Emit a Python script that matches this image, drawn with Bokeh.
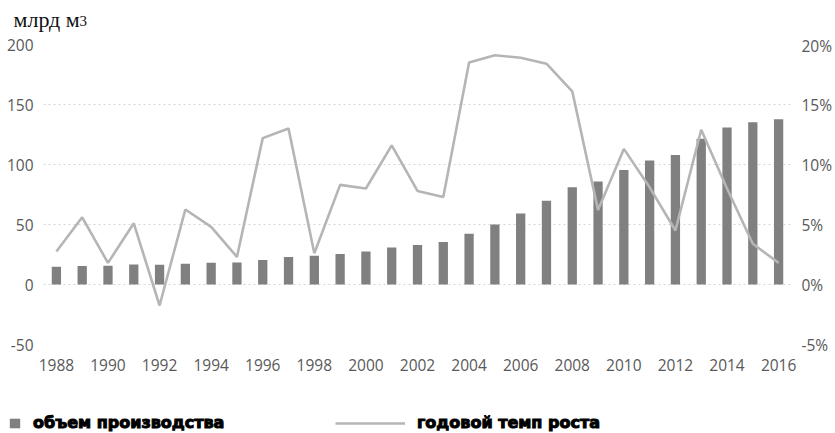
from bokeh.plotting import figure
from bokeh.layouts import column
from bokeh.models import (Range1d, LinearAxis, Legend, LegendItem, Label,
                          FixedTicker, PrintfTickFormatter)
from bokeh.embed import file_html
from bokeh.resources import INLINE

# ---- data ----
years = list(range(1988, 2017))
volume = [14.7, 15.5, 15.6, 16.6, 16.4, 17.2, 18.2, 18.4, 20.5, 23.0,
          23.9, 25.5, 27.5, 30.8, 33.0, 35.5, 42.2, 50.0, 59.2, 69.7,
          81.0, 85.8, 95.5, 103.3, 108.0, 121.4, 130.8, 135.3, 137.8]
growth = [2.75, 5.6, 1.8, 5.1, -1.75, 6.25, 4.8, 2.3, 12.2, 13.0,
          2.6, 8.3, 8.0, 11.6, 7.8, 7.3, 18.5, 19.1, 18.9, 18.4,
          16.1, 6.2, 11.3, 8.1, 4.5, 12.9, 8.0, 3.4, 1.8]
x_ticks = years[::2]
left_ticks = [-50, 0, 50, 100, 150, 200]
right_ticks = [-5, 0, 5, 10, 15, 20]
unit_text = "млрд м"
unit_sup = "3"
bar_label = "объем производства"
line_label = "годовой темп роста"

BAR = "#808080"
LINE = "#b5b5b5"
TICK = "#595959"
TICK_FONT = "Open Sans"
TICK_SIZE = "15.5px"
W = 835

# ---- header strip with the unit ----
hf = figure(width=W, height=34, output_backend="svg", toolbar_location=None,
            x_range=Range1d(0, W), y_range=Range1d(0, 34), min_border=0,
            x_axis_location=None, y_axis_location=None, frame_align=False)
hf.title = None
hf.grid.visible = False
hf.outline_line_color = None
hf.add_layout(Label(x=13, y=3, text=unit_text, text_font="Liberation Serif",
                    text_font_size="22px", text_color="#111111",
                    text_baseline="bottom"))
hf.add_layout(Label(x=79, y=9, text=unit_sup, text_font="Liberation Serif",
                    text_font_size="15px", text_color="#111111",
                    text_baseline="bottom"))

# ---- main chart ----
p = figure(width=W, height=361, output_backend="svg", toolbar_location=None,
           x_range=Range1d(1987.5, 2016.5), y_range=Range1d(-50, 200),
           min_border_left=43, min_border_right=42, min_border_top=10,
           min_border_bottom=51, frame_align=False)
p.title = None
p.outline_line_color = None
p.background_fill_color = "#ffffff"
p.border_fill_color = "#ffffff"
p.extra_y_ranges = {"pct": Range1d(-5, 20)}

bars = p.vbar(x=years, top=volume, width=0.36, fill_color=BAR, line_color=None)
line = p.line(x=years, y=growth, y_range_name="pct", line_color=LINE, line_width=2.6)

p.xaxis.ticker = FixedTicker(ticks=x_ticks)
p.yaxis.ticker = FixedTicker(ticks=left_ticks)
p.yaxis.formatter = PrintfTickFormatter(format="%d")
right = LinearAxis(y_range_name="pct", ticker=FixedTicker(ticks=right_ticks),
                   formatter=PrintfTickFormatter(format="%d%%"))
p.add_layout(right, "right")
for ax in [p.xaxis[0], p.yaxis[0], right]:
    ax.axis_line_color = None
    ax.major_tick_line_color = None
    ax.minor_tick_line_color = None
    ax.major_tick_out = 0
    ax.major_tick_in = 0
    ax.major_label_text_font = TICK_FONT
    ax.major_label_text_font_size = TICK_SIZE
    ax.major_label_text_color = TICK
    ax.major_label_standoff = 10
p.xaxis.major_label_standoff = 14

p.xgrid.visible = False
p.ygrid.ticker = FixedTicker(ticks=left_ticks)
p.ygrid.grid_line_color = "#d4d4d4"
p.ygrid.grid_line_dash = "2 3"
p.ygrid.grid_line_width = 1

# ---- legend strip ----
lf = figure(width=W, height=38, output_backend="svg", toolbar_location=None,
            x_range=Range1d(0, 1), y_range=Range1d(0, 1), min_border=0,
            x_axis_location=None, y_axis_location=None, frame_align=False)
lf.title = None
lf.grid.visible = False
lf.outline_line_color = None
lf.border_fill_color = "#ffffff"
# swatch renderers kept outside the visible range; only their legend glyphs show
lb = lf.vbar(x=[-5], top=[-5], bottom=-6, width=0.36, fill_color=BAR, line_color=None)
ll = lf.line(x=[-5, -4], y=[-5, -5], line_color=LINE, line_width=2.6)

def mk_legend(label, rend, loc, gw):
    lg = Legend(items=[LegendItem(label=label, renderers=[rend])], location=loc,
                orientation="horizontal", glyph_width=gw, glyph_height=12,
                label_standoff=12, padding=0, margin=0, spacing=0,
                border_line_color=None, background_fill_alpha=0,
                label_text_font="DejaVu Sans", label_text_font_style="bold",
                label_text_font_size="16px", label_text_color="#000000",
                label_text_outline_color="#000000")
    lf.add_layout(lg, "center")

mk_legend(bar_label, lb, (8, 1), 13)
mk_legend(line_label, ll, (335, 1), 70)

open("out.html", "w").write(file_html(column(hf, p, lf), INLINE))
